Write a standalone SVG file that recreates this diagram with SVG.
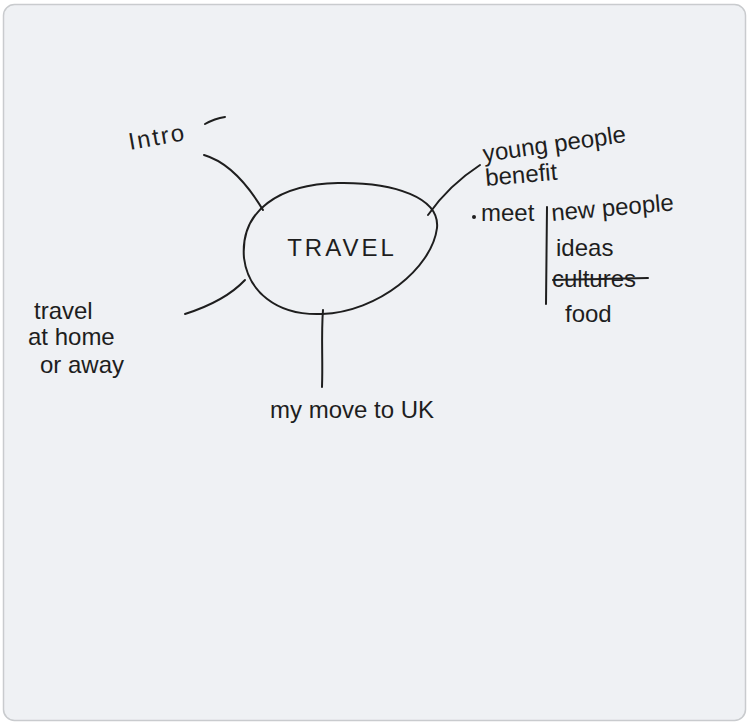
<svg xmlns="http://www.w3.org/2000/svg" width="749" height="724" viewBox="0 0 749 724">
<style>
.ink{fill:none;stroke:#1e1e1e;stroke-width:2;stroke-linecap:round;stroke-linejoin:round}
.t{font-family:"Liberation Sans","DejaVu Sans",sans-serif;font-size:24px;fill:#1e1e1e}
</style>
<rect x="0" y="0" width="749" height="724" fill="#ffffff"/>
<rect x="3.5" y="4.5" width="742" height="716" rx="11" fill="#eff1f4" stroke="#c9cbce" stroke-width="1.5"/>
<g id="connectors">
<path class="ink" d="M204,155 C228,162 248,185 263,210"/>
<path class="ink" d="M428,215 C442,195 460,178 480,165"/>
<path class="ink" d="M245,280 C230,296 210,306 185,314"/>
<path class="ink" d="M323,310 C321,335 323,360 322,387"/>
</g>
<g id="travel">
<path class="ink" d="M338,183 C395,182 440,198 437,228 C432,268 378,312 322,314 C275,316 248,290 244,258 C240,210 280,184 338,183 Z"/>
<text class="t" x="342" y="256" text-anchor="middle" font-size="22" letter-spacing="3">TRAVEL</text>
</g>
<g id="intro">
<text class="t" x="130" y="150" transform="rotate(-10 130 150)" font-size="26" letter-spacing="2">Intro</text>
<path class="ink" d="M205,124 C212,120 218,118 225,117"/>
</g>
<g id="benefit">
<text class="t" x="484" y="162" transform="rotate(-8 484 162)" font-size="25">young people</text>
<text class="t" x="486" y="186" transform="rotate(-5 486 186)" font-size="25">benefit</text>
<circle cx="474" cy="217" r="2" fill="#1e1e1e"/>
<text class="t" x="481" y="221" font-size="22">meet</text>
<path class="ink" d="M547,207 L546,304"/>
<text class="t" x="552" y="221" transform="rotate(-5 552 221)" font-size="25">new people</text>
<text class="t" x="556" y="256">ideas</text>
<text class="t" x="552" y="287" font-size="23">cultures</text>
<path class="ink" d="M553,280 L648,278" stroke-width="2.5"/>
<text class="t" x="565" y="322" font-size="26">food</text>
</g>
<g id="home">
<text class="t" x="34" y="319" font-size="25">travel</text>
<text class="t" x="28" y="345" font-size="24">at home</text>
<text class="t" x="40" y="373" font-size="25">or away</text>
</g>
<g id="uk">
<text class="t" x="270" y="418" font-size="26">my move to UK</text>
</g>
</svg>
